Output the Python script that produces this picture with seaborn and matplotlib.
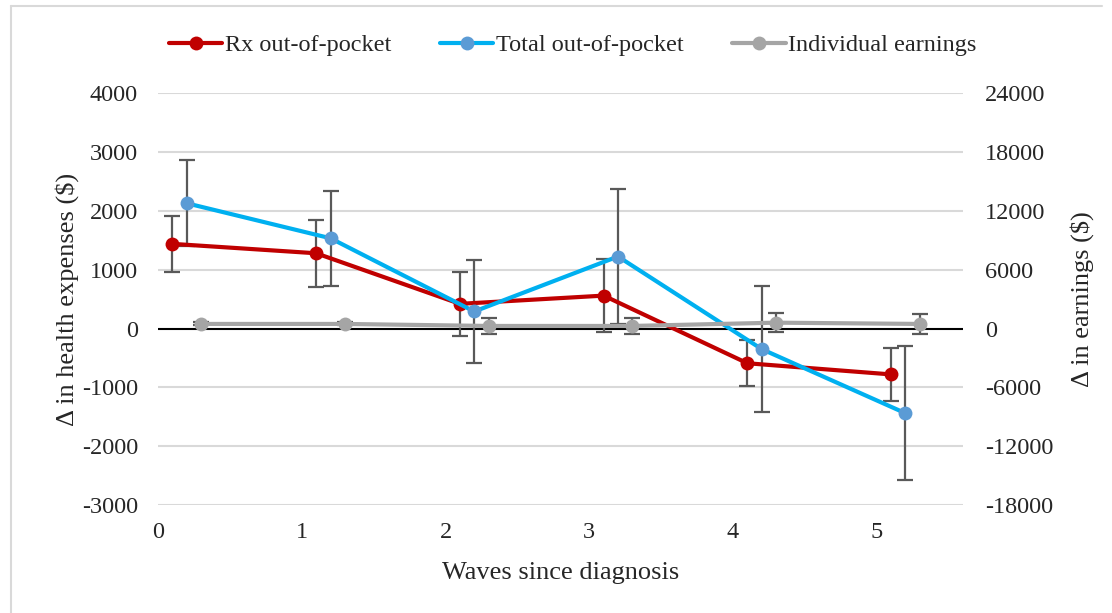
import matplotlib
matplotlib.use("Agg")
import matplotlib.pyplot as plt
from matplotlib.lines import Line2D
import numpy as np
import pandas as pd
import seaborn as sns

# Event-study estimates by wave since diagnosis
waves = [0, 1, 2, 3, 4, 5]
rx_oop = [1440, 1280, 420, 560, -590, -780]
rx_oop_err = [480, 570, 540, 625, 390, 450]
total_oop = [2130, 1535, 290, 1225, -350, -1440]
total_oop_err = [730, 810, 880, 1140, 1075, 1135]
earnings = [470, 470, 265, 265, 600, 470]
earnings_err = [150, 150, 770, 840, 940, 1050]

left_ticks = [-3000, -2000, -1000, 0, 1000, 2000, 3000, 4000]
right_ticks = [-18000, -12000, -6000, 0, 6000, 12000, 18000, 24000]
x_ticks = [0, 1, 2, 3, 4, 5]

RED = "#C00000"
BLUE_LINE = "#00B0F0"
BLUE_MARK = "#5B9BD5"
GRAY = "#A5A5A5"
ERR = "#595959"
GRID = "#D9D9D9"

sns.set_theme(style="white")
plt.rcParams["font.family"] = ["Liberation Serif", "DejaVu Serif"]
FS = 17.5
LFS = 19

fig = plt.figure(figsize=(11.12, 6.13), dpi=100)
ax = fig.add_axes([0.1421, 0.1762, 0.866 - 0.1421, 0.8478 - 0.1762])
ax2 = ax.twinx()

w = np.array(waves, dtype=float)
df = pd.DataFrame({
    "x_rx": w + 0.1, "rx": rx_oop, "rx_err": rx_oop_err,
    "x_tot": w + 0.2, "tot": total_oop, "tot_err": total_oop_err,
    "x_earn": w + 0.3, "earn": earnings, "earn_err": earnings_err,
})

# gridlines and zero line
for t in left_ticks:
    if t == 0:
        continue
    ax.axhline(t, color=GRID, lw=1.5, zorder=0)
ax.axhline(0, color="black", lw=1.5, zorder=1)

lw = 3.0
ms = 10

# error bars
ax.errorbar(df["x_rx"], df["rx"], yerr=df["rx_err"], fmt="none", ecolor=ERR,
            elinewidth=1.6, capsize=6, capthick=1.6, zorder=2)
ax.errorbar(df["x_tot"], df["tot"], yerr=df["tot_err"], fmt="none", ecolor=ERR,
            elinewidth=1.6, capsize=6, capthick=1.6, zorder=2)

sns.lineplot(data=df, x="x_rx", y="rx", ax=ax, color=RED, lw=lw, marker="o",
             markersize=ms, markeredgewidth=0, markerfacecolor=RED, zorder=3,
             sort=False, legend=False)
sns.lineplot(data=df, x="x_tot", y="tot", ax=ax, color=BLUE_LINE, lw=lw, marker="o",
             markersize=ms, markeredgewidth=0, markerfacecolor=BLUE_MARK, zorder=3,
             sort=False, legend=False)

ax2.errorbar(df["x_earn"], df["earn"], yerr=df["earn_err"], fmt="none", ecolor=ERR,
             elinewidth=1.6, capsize=6, capthick=1.6, zorder=2)
sns.lineplot(data=df, x="x_earn", y="earn", ax=ax2, color=GRAY, lw=lw, marker="o",
             markersize=ms, markeredgewidth=0, markerfacecolor=GRAY, zorder=3,
             sort=False, legend=False)

ax.set_xlim(0, 5.6)
ax.set_ylim(-3000, 4000)
ax2.set_ylim(-18000, 24000)
ax.set_xticks(x_ticks)
ax.set_xticklabels([str(v) for v in x_ticks], fontsize=FS)
ax.set_yticks(left_ticks)
ax.set_yticklabels([str(v) for v in left_ticks], fontsize=FS)
ax2.set_yticks(right_ticks)
ax2.set_yticklabels([str(v) for v in right_ticks], fontsize=FS)

ax.tick_params(axis="x", length=0, pad=12)
ax.tick_params(axis="y", length=0, pad=14.5)
ax2.tick_params(axis="y", length=0, pad=16)

for a in (ax, ax2):
    for s in a.spines.values():
        s.set_visible(False)
    a.grid(False)
    a.patch.set_visible(False)

ax.set_xlabel("Waves since diagnosis", fontsize=LFS, labelpad=14)
ax.set_ylabel("Δ in health expenses ($)", fontsize=LFS, labelpad=2)
ax2.set_ylabel("Δ in earnings ($)", fontsize=LFS, labelpad=12)

handles = [
    Line2D([], [], color=RED, lw=lw, marker="o", markersize=ms, markeredgewidth=0,
           markerfacecolor=RED),
    Line2D([], [], color=BLUE_LINE, lw=lw, marker="o", markersize=ms, markeredgewidth=0,
           markerfacecolor=BLUE_MARK),
    Line2D([], [], color=GRAY, lw=lw, marker="o", markersize=ms, markeredgewidth=0,
           markerfacecolor=GRAY),
]
labels = ["Rx out-of-pocket", "Total out-of-pocket", "Individual earnings"]
fig.legend(handles, labels, loc="center", bbox_to_anchor=(0.515, 0.926), ncol=3,
           frameon=False, fontsize=FS, handlelength=2.2, handletextpad=0.1,
           columnspacing=2.0)

# outer frame (top and left edges)
fig.add_artist(Line2D([11 / 1112, 1102 / 1112], [1 - 6 / 613, 1 - 6 / 613],
                      color=GRID, lw=1.5, transform=fig.transFigure))
fig.add_artist(Line2D([11 / 1112, 11 / 1112], [0, 1 - 6 / 613],
                      color=GRID, lw=1.5, transform=fig.transFigure))

fig.savefig("out.png", dpi=100)
